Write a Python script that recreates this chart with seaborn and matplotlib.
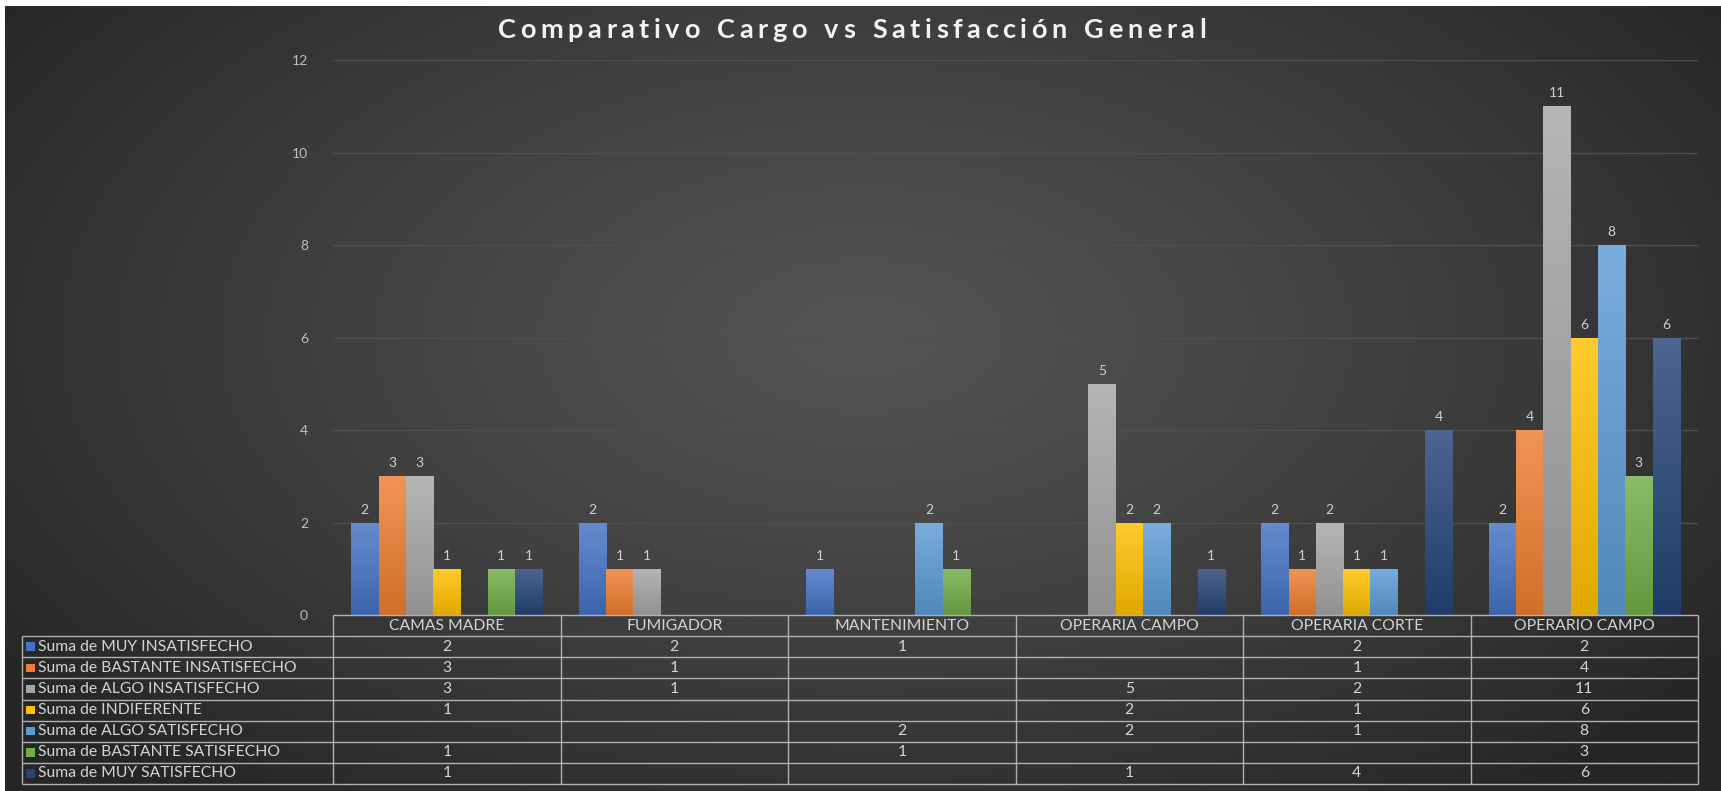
import numpy as np
import pandas as pd
import matplotlib
matplotlib.use("Agg")
import matplotlib.pyplot as plt
import seaborn as sns
from matplotlib.colors import to_rgb
from matplotlib.patches import Rectangle

# ---- data -------------------------------------------------------------
categories = ["CAMAS MADRE", "FUMIGADOR", "MANTENIMIENTO",
              "OPERARIA CAMPO", "OPERARIA CORTE", "OPERARIO CAMPO"]
series = ["Suma de MUY INSATISFECHO", "Suma de BASTANTE INSATISFECHO",
          "Suma de ALGO INSATISFECHO", "Suma de INDIFERENTE",
          "Suma de ALGO SATISFECHO", "Suma de BASTANTE SATISFECHO",
          "Suma de MUY SATISFECHO"]
muy_insatisfecho = [2, 2, 1, None, 2, 2]
bastante_insatisfecho = [3, 1, None, None, 1, 4]
algo_insatisfecho = [3, 1, None, 5, 2, 11]
indiferente = [1, None, None, 2, 1, 6]
algo_satisfecho = [None, None, 2, 2, 1, 8]
bastante_satisfecho = [1, None, 1, None, None, 3]
muy_satisfecho = [1, None, None, 1, 4, 6]
y_ticks = [0, 2, 4, 6, 8, 10, 12]
title = "Comparativo Cargo vs Satisfacción General"

values = [muy_insatisfecho, bastante_insatisfecho, algo_insatisfecho,
          indiferente, algo_satisfecho, bastante_satisfecho, muy_satisfecho]
colors = ["#4472C4", "#ED7D31", "#A5A5A5", "#FFC000",
          "#5B9BD5", "#70AD47", "#264478"]

rows = []
for s, vals in zip(series, values):
    for c, v in zip(categories, vals):
        if v is not None:
            rows.append({"cargo": c, "serie": s, "valor": v})
df = pd.DataFrame(rows)

# ---- figure -----------------------------------------------------------
sns.set_theme(style="dark")
plt.rcParams["font.family"] = ["Lato", "DejaVu Sans"]

W, H = 1721, 791
fig = plt.figure(figsize=(W / 100, H / 100), dpi=100, facecolor="white")

# radial dark backdrop
bg = fig.add_axes([5 / W, 0, 1 - 5 / W, 1 - 6 / H], zorder=-10)
gy, gx = np.mgrid[0:1:400j, 0:1:800j]
d = np.sqrt(((gx - 0.5) / 0.62) ** 2 + ((gy - 0.42) / 0.75) ** 2)
d = np.clip(d, 0, 1) ** 1.2
c_in, c_out = np.array(to_rgb("#545454")), np.array(to_rgb("#262626"))
img = c_in[None, None, :] * (1 - d[..., None]) + c_out[None, None, :] * d[..., None]
bg.imshow(img, extent=[0, 1, 0, 1], aspect="auto", origin="upper")
bg.set_axis_off()

# plot area
px_left, px_right, px_top, px_zero = 333, 1698, 60, 615
ax = fig.add_axes([px_left / W, 1 - px_zero / H,
                   (px_right - px_left) / W, (px_zero - px_top) / H])
ax.patch.set_alpha(0)

sns.barplot(data=df, x="cargo", y="valor", hue="serie",
            order=categories, hue_order=series, palette=colors,
            saturation=1, width=0.84, gap=0, errorbar=None,
            legend=False, ax=ax, zorder=3)

# vertical gradient inside every bar
for p in list(ax.patches):
    h = p.get_height()
    if not h:
        continue
    x0, w = p.get_x(), p.get_width()
    base = np.array(p.get_facecolor()[:3])
    top = base + (1 - base) * 0.18
    bottom = base * 0.88
    t = np.linspace(0, 1, 64)[:, None]
    grad = top[None, :] * (1 - t) + bottom[None, :] * t
    im = ax.imshow(grad[:, None, :], extent=[x0, x0 + w, 0, h],
                   aspect="auto", origin="upper", zorder=3.1)
    im.set_clip_path(p)
    p.set_facecolor("none")
    p.set_edgecolor("none")
ax.set_xlim(-0.5, len(categories) - 0.5)
ax.set_ylim(0, 12)

for cont in ax.containers:
    ax.bar_label(cont, fmt="%g", padding=5, color="#cfcfcf", fontsize=10)

ax.set_yticks(y_ticks)
ax.set_yticklabels([str(v) for v in y_ticks], color="#bfbfbf", fontsize=10)
ax.tick_params(axis="y", length=0, pad=18)
ax.set_xticks([])
ax.set_xlabel("")
ax.set_ylabel("")
ax.grid(axis="y", color="#4f4f4f", linewidth=1, zorder=0)
ax.grid(axis="x", visible=False)
for sp in ax.spines.values():
    sp.set_visible(False)

# letter-spaced title, centred on the chart
renderer = fig.canvas.get_renderer()
title_kw = dict(fontsize=19.5, fontweight="bold", color="#f2f2f2",
                va="center", ha="left")
title_width_px, title_cx, title_cy = 708, 852, 30
glyphs = [fig.text(0, 1 - title_cy / H, ch, **title_kw) for ch in title]
widths = []
for g, ch in zip(glyphs, title):
    if ch == " ":
        g.set_text("n")
        widths.append(g.get_window_extent(renderer).width * 0.55)
        g.set_text(" ")
    else:
        widths.append(g.get_window_extent(renderer).width)
spacing = (title_width_px - sum(widths)) / (len(title) - 1)
x = title_cx - title_width_px / 2
for g, wdt in zip(glyphs, widths):
    g.set_x(x / W)
    x += wdt + spacing

# ---- data table below the plot ---------------------------------------
tab_left, tab_bottom = 22, 784
cat_px = (px_right - px_left) / len(categories)
xl = -0.5 - (px_left - tab_left) / cat_px
tax = fig.add_axes([tab_left / W, 1 - tab_bottom / H,
                    (px_right - tab_left) / W, (tab_bottom - px_zero) / H])
tax.set_xlim(xl, len(categories) - 0.5)
n_rows = len(series) + 1
tax.set_ylim(n_rows, 0)
tax.set_axis_off()

line_kw = dict(color="#b0b0b0", linewidth=1, clip_on=False)
tax.hlines(0, -0.5, len(categories) - 0.5, **line_kw)
for r in range(1, n_rows + 1):
    tax.hlines(r, xl, len(categories) - 0.5, **line_kw)
for i in range(len(categories) + 1):
    tax.vlines(i - 0.5, 0, n_rows, **line_kw)
tax.vlines(xl, 1, n_rows, **line_kw)

txt_kw = dict(color="#d4d4d4", fontsize=11.3, va="center")
for i, c in enumerate(categories):
    tax.text(i, 0.5, c, ha="center", **txt_kw)

key_w = 9 / cat_px
for r, (s, vals, col) in enumerate(zip(series, values, colors), start=1):
    tax.add_patch(Rectangle((xl + 4 / cat_px, r + 0.3), key_w, 0.4,
                            facecolor=col, edgecolor="none", clip_on=False))
    tax.text(xl + 16 / cat_px, r + 0.5, s, ha="left", **txt_kw)
    for i, v in enumerate(vals):
        if v is not None:
            tax.text(i, r + 0.5, f"{v:g}", ha="center", **txt_kw)

fig.savefig("out.png", dpi=100, facecolor=fig.get_facecolor())
